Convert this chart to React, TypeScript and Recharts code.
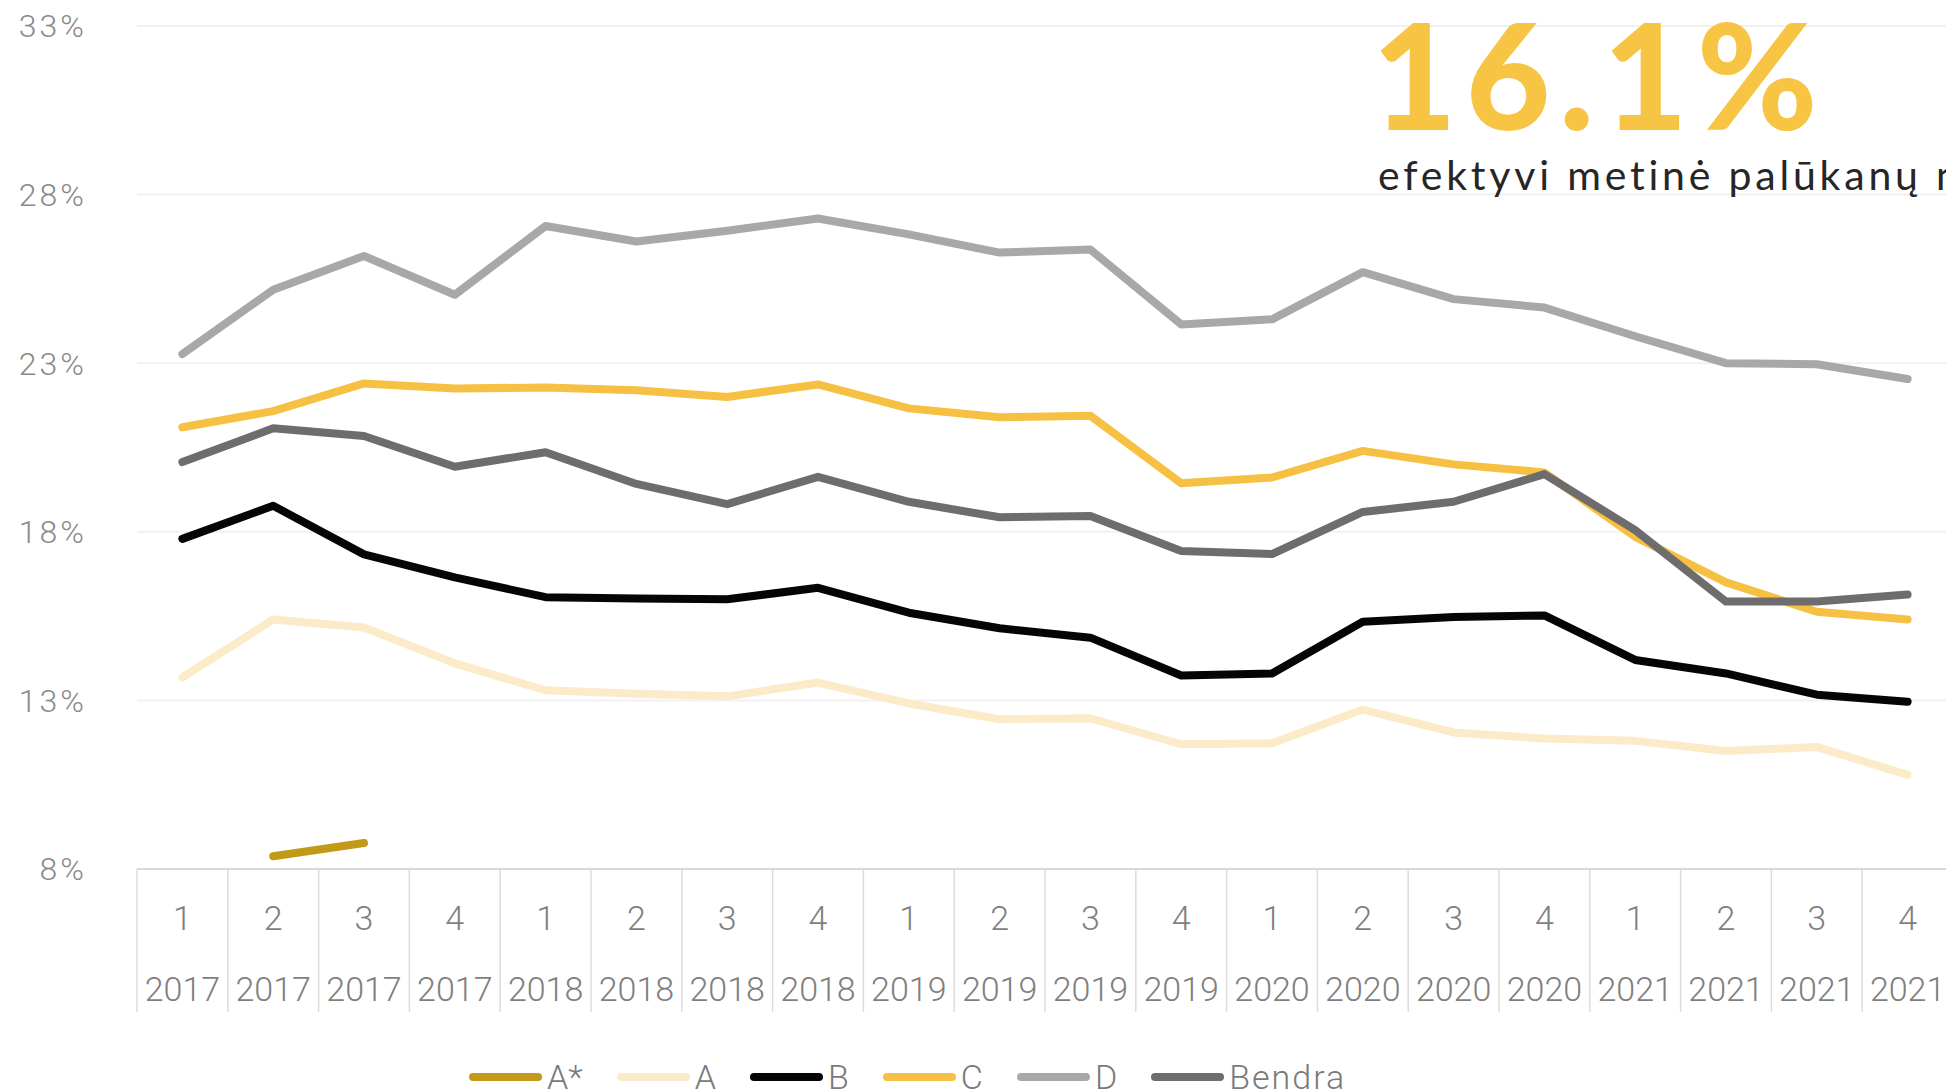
import React from 'react';
import { LineChart, Line, XAxis, YAxis, CartesianGrid, Legend } from 'recharts';

const quarters = ['1', '2', '3', '4', '1', '2', '3', '4', '1', '2', '3', '4', '1', '2', '3', '4', '1', '2', '3', '4'];
const years = ['2017', '2017', '2017', '2017', '2018', '2018', '2018', '2018', '2019', '2019', '2019', '2019', '2020', '2020', '2020', '2020', '2021', '2021', '2021', '2021'];

const aStar = [null, 8.38, 8.77, null, null, null, null, null, null, null, null, null, null, null, null, null, null, null, null, null];
const a = [13.68, 15.4, 15.16, 14.1, 13.3, 13.2, 13.12, 13.53, 12.91, 12.44, 12.47, 11.7, 11.73, 12.73, 12.05, 11.87, 11.8, 11.5, 11.62, 10.79];
const b = [17.79, 18.77, 17.33, 16.65, 16.06, 16.02, 16.0, 16.34, 15.6, 15.14, 14.86, 13.74, 13.8, 15.33, 15.47, 15.52, 14.2, 13.8, 13.17, 12.96];
const c = [21.1, 21.58, 22.4, 22.25, 22.28, 22.2, 22.0, 22.37, 21.66, 21.4, 21.44, 19.44, 19.61, 20.4, 20.0, 19.76, 17.85, 16.5, 15.63, 15.4];
const d = [23.27, 25.18, 26.18, 25.03, 27.07, 26.61, 26.93, 27.29, 26.82, 26.28, 26.37, 24.15, 24.3, 25.7, 24.9, 24.65, 23.8, 23.0, 22.97, 22.53];
const bendra = [20.07, 21.07, 20.84, 19.93, 20.36, 19.42, 18.82, 19.63, 18.89, 18.43, 18.47, 17.43, 17.34, 18.59, 18.89, 19.71, 18.05, 15.93, 15.93, 16.14];

const yTicks = [8, 13, 18, 23, 28, 33];
const legendOrder = ['A*', 'A', 'B', 'C', 'D', 'Bendra'];

const data = quarters.map((q, i) => ({
  cat: `${q} ${years[i]}`,
  aStar: aStar[i],
  a: a[i],
  b: b[i],
  c: c[i],
  d: d[i],
  bendra: bendra[i],
}));

const W = 1960;
const H = 1100;
const BAND = (W - 137 - 7) / quarters.length;
const FONT = 'Roboto, "Open Sans", sans-serif';

const CategoryTick = (props: any) => {
  const { x, y, payload, index } = props;
  const [q, yr] = String(payload.value).split(' ');
  const last = index === quarters.length - 1;
  return (
    <g>
      <line x1={x - BAND / 2} x2={x - BAND / 2} y1={y} y2={y + 143} stroke="#dcdcdc" strokeWidth={1.5} />
      {last && <line x1={x + BAND / 2} x2={x + BAND / 2} y1={y} y2={y + 143} stroke="#dcdcdc" strokeWidth={1.5} />}
      <text x={x} y={y + 49} textAnchor="middle" dominantBaseline="central" fill="#7f7f7f" fontSize={34} fontWeight={300} fontFamily={FONT}>
        {q}
      </text>
      <text x={x} y={y + 120} textAnchor="middle" dominantBaseline="central" fill="#7f7f7f" fontSize={34} fontWeight={300} fontFamily={FONT}>
        {yr}
      </text>
    </g>
  );
};

const LegendBox = (props: any) => {
  const items = [...(props.payload || [])].sort(
    (p: any, q: any) => legendOrder.indexOf(p.value) - legendOrder.indexOf(q.value)
  );
  return (
    <div style={{ height: 40, display: 'flex', alignItems: 'center', paddingLeft: 469, fontFamily: FONT }}>
      {items.map((it: any) => (
        <div key={it.value} style={{ display: 'flex', alignItems: 'center', marginRight: 34 }}>
          <svg width={73} height={40}>
            <line x1={4} x2={69} y1={20} y2={20} stroke={it.color} strokeWidth={8} strokeLinecap="round" />
          </svg>
          <span style={{ marginLeft: 5, fontSize: 34, fontWeight: 300, color: '#7a7a7a', lineHeight: '40px', letterSpacing: it.value === 'Bendra' ? 2 : 0 }}>
            {it.value}
          </span>
        </div>
      ))}
    </div>
  );
};

export default function App() {
  const lineProps = {
    type: 'linear' as const,
    strokeWidth: 8,
    dot: false,
    activeDot: false,
    strokeLinecap: 'round' as const,
    strokeLinejoin: 'round' as const,
    isAnimationActive: false,
  };

  return (
    <div style={{ position: 'relative', width: 1946, height: 1091, overflow: 'hidden', background: '#fff' }}>
      <style>{'body{margin:0;overflow:hidden}'}</style>
      <LineChart width={W} height={H} data={data} margin={{ top: 26, right: 7, left: 0, bottom: 3 }}>
        <CartesianGrid horizontal vertical={false} stroke="#f1f1f1" strokeWidth={2} />
        <XAxis
          dataKey="cat"
          interval={0}
          height={188}
          padding={{ left: BAND / 2, right: BAND / 2 }}
          tickLine={false}
          tickSize={0}
          tickMargin={0}
          axisLine={{ stroke: '#d9d9d9', strokeWidth: 2 }}
          tick={<CategoryTick />}
        />
        <YAxis
          domain={[8, 33]}
          ticks={yTicks}
          width={137}
          axisLine={false}
          tickLine={false}
          tickSize={0}
          tickMargin={50}
          tickFormatter={(v: number) => `${v}%`}
          tick={{ fill: '#8a8a8a', fontSize: 32, fontWeight: 300, fontFamily: FONT, letterSpacing: 3 }}
        />
        <Legend verticalAlign="bottom" height={40} content={<LegendBox />} />
        <Line {...lineProps} dataKey="aStar" name="A*" stroke="#c39a17" />
        <Line {...lineProps} dataKey="a" name="A" stroke="#fbebc8" />
        <Line {...lineProps} dataKey="b" name="B" stroke="#050505" />
        <Line {...lineProps} dataKey="c" name="C" stroke="#f6c142" />
        <Line {...lineProps} dataKey="d" name="D" stroke="#a9a7a8" />
        <Line {...lineProps} dataKey="bendra" name="Bendra" stroke="#6f6c6d" />
      </LineChart>
      <div
        style={{
          position: 'absolute',
          left: 1372,
          top: 22,
          fontFamily: 'Lato, sans-serif',
          fontWeight: 900,
          fontSize: 146,
          lineHeight: '104px',
          letterSpacing: 9,
          color: '#f7c443',
          whiteSpace: 'nowrap',
        }}
      >
        16.1%
      </div>
      <div
        style={{
          position: 'absolute',
          left: 1378,
          top: 154,
          fontFamily: 'Lato, sans-serif',
          fontWeight: 400,
          fontSize: 41,
          lineHeight: 1,
          letterSpacing: 3.8,
          color: '#262626',
          whiteSpace: 'nowrap',
        }}
      >
        efektyvi metinė palūkanų norma
      </div>
    </div>
  );
}
